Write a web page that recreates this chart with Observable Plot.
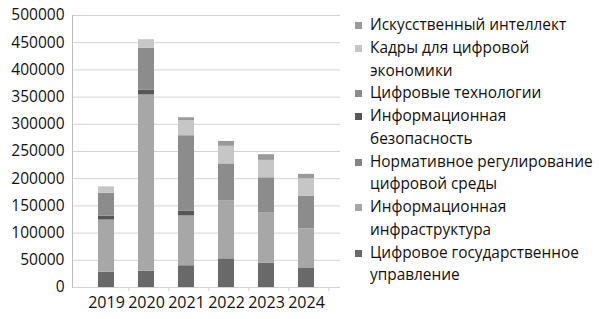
<!DOCTYPE html>
<html>
<head>
<meta charset="utf-8">
<script src="https://cdn.jsdelivr.net/npm/d3@7"></script>
<script src="https://cdn.jsdelivr.net/npm/@observablehq/plot@0.6"></script>
<style>
  html, body { margin: 0; padding: 0; background: #fff; }
  #wrap { position: relative; width: 599px; height: 319px; font-family: "Open Sans", sans-serif; }
  #chart { position: absolute; left: 0; top: 0; }
  #legend { position: absolute; left: 355px; top: 14px; width: 240px; font-size: 15.4px; line-height: 22.75px; color: #111; }
  .item { display: flex; align-items: flex-start; }
  .sw { width: 7px; height: 7px; margin-top: 8px; margin-right: 8px; flex: none; }
  .lbl { width: 226px; }
  #chart svg g[aria-label="x-axis tick label"] text { font-size: 16px; }
</style>
</head>
<body>
<div id="wrap"><div id="chart"></div><div id="legend"></div></div>
<script>
const years = ["2019", "2020", "2021", "2022", "2023", "2024"];
const seriesNames = [
  "Цифровое государственное управление",
  "Информационная инфраструктура",
  "Нормативное регулирование цифровой среды",
  "Информационная безопасность",
  "Цифровые технологии",
  "Кадры для цифровой экономики",
  "Искусственный интеллект"
];
const govValues = [28000, 30000, 40000, 52700, 44700, 36000];
const infraValues = [96000, 324000, 91500, 107000, 92000, 72000];
const normValues = [0, 0, 0, 0, 0, 0];
const securityValues = [7000, 8500, 8500, 0, 0, 0];
const techValues = [42000, 77000, 139000, 67500, 65000, 60000];
const staffValues = [12000, 16000, 28000, 32300, 32000, 32000];
const aiValues = [0, 0, 5000, 9000, 10400, 8000];
const yTicks = [0, 50000, 100000, 150000, 200000, 250000, 300000, 350000, 400000, 450000, 500000];
const colors = ["#696969", "#a7a7a7", "#848484", "#575757", "#8c8c8c", "#c6c6c6", "#9a9a9a"];

const allValues = [govValues, infraValues, normValues, securityValues, techValues, staffValues, aiValues];
const rows = [];
seriesNames.forEach((s, i) => {
  years.forEach((y, j) => rows.push({year: y, series: s, value: allValues[i][j]}));
});

const chart = Plot.plot({
  width: 345,
  height: 319,
  marginLeft: 72,
  marginRight: 5,
  marginTop: 15,
  marginBottom: 32,
  style: {fontFamily: "Open Sans, sans-serif", fontSize: "15.5px", color: "#111", background: "transparent"},
  x: {domain: years, padding: 0.6, label: null, tickSize: 0, tickPadding: 9},
  y: {domain: [0, 500000], ticks: yTicks, label: null, tickSize: 0, tickPadding: 8, tickFormat: d => String(d)},
  color: {domain: seriesNames, range: colors},
  marks: [
    Plot.ruleY(yTicks, {stroke: "#d4d4d4", strokeWidth: 1}),
    Plot.ruleX(years, {x: d => d, y1: 0, y2: 0, dx: 22.35, insetBottom: -4, stroke: "#d0d0d0"}),
    Plot.frame({anchor: "left", stroke: "#bdbdbd"}),
    Plot.barY(rows, Plot.stackY({x: "year", y: "value", fill: "series", order: null}))
  ]
});
document.getElementById("chart").appendChild(chart);

const legend = document.getElementById("legend");
seriesNames.slice().reverse().forEach(name => {
  const item = document.createElement("div");
  item.className = "item";
  const sw = document.createElement("div");
  sw.className = "sw";
  sw.style.background = colors[seriesNames.indexOf(name)];
  const lbl = document.createElement("div");
  lbl.className = "lbl";
  lbl.textContent = name;
  item.appendChild(sw);
  item.appendChild(lbl);
  legend.appendChild(item);
});
</script>
</body>
</html>
